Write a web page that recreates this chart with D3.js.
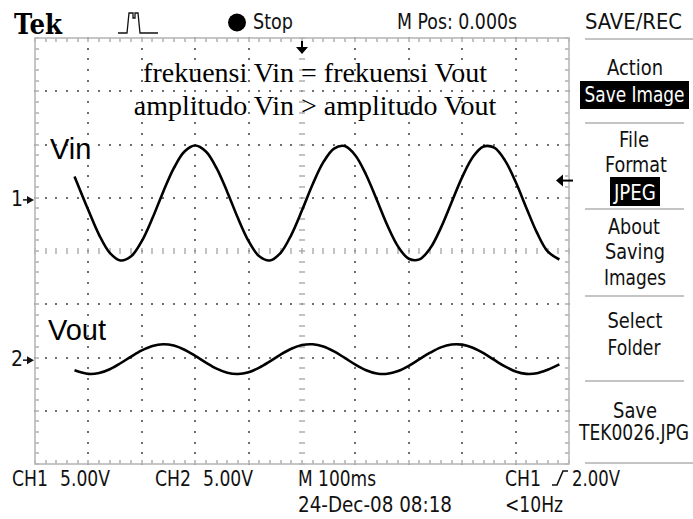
<!DOCTYPE html>
<html lang="en">
<head>
<meta charset="UTF-8">
<title>Vin vs Vout</title>
<script src="https://d3js.org/d3.v7.min.js"></script>
<style>
    body { margin: 0; background: #fff; }
    svg { display: block; }
    .tek { font-family: "DejaVu Sans Condensed", "DejaVu Sans", sans-serif; font-stretch: condensed; font-size: 21px; }
</style>
</head>
<body>
<svg id="scope"></svg>
<script>
    // sample times (ms from trigger) and both traces in volts
    var timeMs = [-426, -400, -380, -360, -340, -320, -300, -280, -260, -240, -220, -200, -180, -160, -140, -120,
        -100, -80, -60, -40, -20, 0, 20, 40, 60, 80, 100, 120, 140, 160, 180, 200, 220, 240, 260, 280, 300, 320,
        340, 360, 380, 400, 420, 440, 460, 482];
    var vin = [2.20, -0.98, -3.28, -4.97, -5.69, -5.30, -3.87, -1.71, 0.75, 2.98, 4.54, 5.10, 4.54, 2.98, 0.75, -1.71,
        -3.87, -5.30, -5.69, -4.97, -3.28, -0.98, 1.47, 3.54, 4.82, 5.05, 4.17, 2.36, 0.01, -2.41, -4.39, -5.53, -5.59,
        -4.55, -2.63, -0.24, 2.14, 4.03, 5.01, 4.90, 3.71, 1.70, -0.73, -3.08, -4.84, -5.60];
    var vout = [-0.95, -1.29, -1.21, -0.85, -0.29, 0.34, 0.92, 1.34, 1.50, 1.37, 0.98, 0.40, -0.23, -0.80, -1.18, -1.30,
        -1.13, -0.70, -0.11, 0.53, 1.07, 1.42, 1.49, 1.28, 0.82, 0.21, -0.42, -0.94, -1.25, -1.28, -1.02, -0.53, 0.09,
        0.70, 1.20, 1.47, 1.46, 1.16, 0.65, 0.02, -0.59, -1.06, -1.29, -1.23, -0.90, -0.40];

    var timeDomain = [-500, 500];     // M 100ms, 10 divisions
    var divDomain = [-4, 4];          // 8 vertical divisions
    var voltsPerDiv = [5, 5];         // CH1, CH2
    var chOffsetDiv = [0.96, -2.05];  // ground markers
    var trigLevel = 2.0;
    var notes = ["frekuensi Vin = frekuensi Vout", "amplitudo Vin > amplitudo Vout"];
    var traceNames = ["Vin", "Vout"];

    var W = 693, H = 519;
    var svg = d3.select('#scope').attr('width', W).attr('height', H);
    svg.append('rect').attr('width', W).attr('height', H).attr('fill', '#fff');

    var x = d3.scaleLinear().domain(timeDomain).range([35, 569]);
    var y = d3.scaleLinear().domain(divDomain).range([464, 38]);
    var divW = (x.range()[1] - x.range()[0]) / 10;
    var divH = (y.range()[0] - y.range()[1]) / 8;

    // graticule
    var grid = svg.append('g');
    var gridCol = '#6e6e6e';
    var tickCol = '#aaa';
    var minorX = d3.range(0, 51).map(function (i) { return Math.round(x.range()[0] + i * divW / 5); });
    var minorY = d3.range(0, 41).map(function (i) { return Math.round(y.range()[1] + i * divH / 5); });
    var dots = [];
    d3.range(1, 10).filter(function (i) { return i !== 5; }).forEach(function (i) {
        var gx = minorX[i * 5];
        minorY.forEach(function (py) { dots.push([gx, py]); });
    });
    d3.range(1, 8).filter(function (j) { return j !== 4; }).forEach(function (j) {
        var gy = minorY[j * 5];
        minorX.forEach(function (px) { dots.push([px, gy]); });
    });
    grid.selectAll('.dot').data(dots).enter().append('rect')
        .attr('class', 'dot')
        .attr('x', function (d) { return d[0] - 1; })
        .attr('y', function (d) { return d[1] - 1; })
        .attr('width', 2).attr('height', 2)
        .attr('fill', gridCol);

    // centre cross with ticks
    var cx = x(0), cy = y(0);
    minorY.forEach(function (py) {
        grid.append('line').attr('x1', cx - 3).attr('x2', cx + 3).attr('y1', py).attr('y2', py).attr('stroke', tickCol).attr('stroke-width', 1.4);
    });
    minorX.forEach(function (px) {
        grid.append('line').attr('x1', px).attr('x2', px).attr('y1', cy - 3).attr('y2', cy + 3).attr('stroke', tickCol).attr('stroke-width', 1.4);
    });
    // edge ticks
    minorX.forEach(function (px) {
        grid.append('line').attr('x1', px).attr('x2', px).attr('y1', y.range()[1]).attr('y2', y.range()[1] + 4).attr('stroke', tickCol).attr('stroke-width', 1.4);
        grid.append('line').attr('x1', px).attr('x2', px).attr('y1', y.range()[0]).attr('y2', y.range()[0] - 4).attr('stroke', tickCol).attr('stroke-width', 1.4);
    });
    minorY.forEach(function (py) {
        grid.append('line').attr('x1', x.range()[0]).attr('x2', x.range()[0] + 4).attr('y1', py).attr('y2', py).attr('stroke', tickCol).attr('stroke-width', 1.4);
        grid.append('line').attr('x1', x.range()[1]).attr('x2', x.range()[1] - 4).attr('y1', py).attr('y2', py).attr('stroke', tickCol).attr('stroke-width', 1.4);
    });
    grid.append('rect').attr('x', x.range()[0]).attr('y', y.range()[1])
        .attr('width', x.range()[1] - x.range()[0]).attr('height', y.range()[0] - y.range()[1])
        .attr('fill', 'none').attr('stroke', '#b8b8b8').attr('stroke-width', 1.6);

    // traces
    var series = [vin, vout];
    series.forEach(function (vals, k) {
        var line = d3.line()
            .x(function (d, i) { return x(timeMs[i]); })
            .y(function (d) { return y(chOffsetDiv[k] + d / voltsPerDiv[k]); })
            .curve(d3.curveCatmullRom);
        svg.append('path').datum(vals).attr('d', line)
            .attr('fill', 'none').attr('stroke', '#000').attr('stroke-width', 2.6).attr('stroke-linejoin', 'round');
    });

    // trace names
    svg.append('text').attr('x', 50).attr('y', 159).text(traceNames[0])
        .attr('font-family', 'Liberation Sans, Arial, sans-serif').attr('font-size', 29).attr('fill', '#000');
    svg.append('text').attr('x', 48).attr('y', 340).text(traceNames[1])
        .attr('font-family', 'Liberation Sans, Arial, sans-serif').attr('font-size', 29).attr('fill', '#000');

    // annotation
    notes.forEach(function (s, i) {
        svg.append('text').attr('x', 315).attr('y', 82 + i * 33).attr('text-anchor', 'middle').text(s)
            .attr('font-family', 'Liberation Serif, Times New Roman, serif').attr('font-size', 28).attr('fill', '#000');
    });

    // channel ground markers
    chOffsetDiv.forEach(function (d, k) {
        var py = y(d);
        svg.append('text').attr('class', 'tek').attr('x', 11).attr('y', py + 6).attr('font-size', 17).style('fill', '#111').text(k + 1);
        svg.append('line').attr('x1', 23).attr('x2', 30).attr('y1', py).attr('y2', py).attr('stroke', '#111').attr('stroke-width', 1.5);
        svg.append('path').attr('d', 'M' + 34 + ',' + py + 'L' + 27 + ',' + (py - 4) + 'L' + 27 + ',' + (py + 4) + 'Z').attr('fill', '#111');
    });

    // trigger position and level arrows
    svg.append('line').attr('x1', cx).attr('x2', cx).attr('y1', 41).attr('y2', 48).attr('stroke', '#000').attr('stroke-width', 2);
    svg.append('path').attr('d', 'M' + (cx - 6) + ',47L' + (cx + 6) + ',47L' + cx + ',54Z').attr('fill', '#000');
    var ty = y(chOffsetDiv[0] + trigLevel / voltsPerDiv[0]) + 2;
    svg.append('line').attr('x1', 562).attr('x2', 573).attr('y1', ty).attr('y2', ty).attr('stroke', '#000').attr('stroke-width', 2);
    svg.append('path').attr('d', 'M556,' + ty + 'L563,' + (ty - 6) + 'L563,' + (ty + 6) + 'Z').attr('fill', '#000');

    function label(px, py, s, w, anchor, col) {
        var t = svg.append('text').attr('class', 'tek').attr('x', px).attr('y', py).text(s).style('fill', col || '#111');
        if (anchor) t.attr('text-anchor', anchor);
        if (w) t.attr('textLength', w).attr('lengthAdjust', 'spacingAndGlyphs');
        return t;
    }

    // header
    svg.append('text').attr('x', 14).attr('y', 34).text('Tek')
        .attr('font-family', 'DejaVu Serif, serif').attr('font-weight', 'bold').attr('font-size', 27).attr('fill', '#000')
        .attr('textLength', 48).attr('lengthAdjust', 'spacingAndGlyphs');
    svg.append('path').attr('d', 'M118,33h9l2,-20h4v5h2v-5h3l2,20h18')
        .attr('fill', 'none').attr('stroke', '#111').attr('stroke-width', 1.3);
    svg.append('circle').attr('cx', 237).attr('cy', 22.5).attr('r', 9).attr('fill', '#000');
    label(253, 29, 'Stop', 40);
    label(397, 29, 'M Pos: 0.000s', 120);
    label(585, 29, 'SAVE/REC', 97);

    // menu
    var sepCol = '#b0b0b0';
    [39, 123, 209, 296, 381, 463].forEach(function (sy) {
        svg.append('line').attr('x1', 585).attr('x2', sy === 39 || sy === 463 ? 693 : 684).attr('y1', sy).attr('y2', sy)
            .attr('stroke', sepCol).attr('stroke-width', 1.5);
    });
    label(635, 75, 'Action', 56, 'middle');
    svg.append('rect').attr('x', 580).attr('y', 81).attr('width', 109).attr('height', 28).attr('fill', '#000');
    label(634.5, 102, 'Save Image', 100, 'middle', '#fff').attr('font-size', 18);
    label(634, 147, 'File', 30, 'middle');
    label(636, 172, 'Format', 62, 'middle');
    svg.append('rect').attr('x', 610).attr('y', 177).attr('width', 50).attr('height', 29).attr('fill', '#000');
    label(635, 200, 'JPEG', 42, 'middle', '#fff').attr('font-size', 20);
    label(634, 234, 'About', 52, 'middle');
    label(635, 259, 'Saving', 60, 'middle');
    label(635, 285, 'Images', 62, 'middle');
    label(635, 328, 'Select', 55, 'middle');
    label(634, 355, 'Folder', 53, 'middle');
    label(635, 418, 'Save', 44, 'middle');
    label(689, 440, 'TEK0026.JPG', 110, 'end').attr('font-size', 19);

    // footer
    label(12, 486, 'CH1', 36);
    label(60, 486, '5.00V', 50);
    label(155, 486, 'CH2', 36);
    label(203, 486, '5.00V', 50);
    label(298, 486, 'M 100ms', 78);
    label(505, 486, 'CH1', 36);
    svg.append('path').attr('d', 'M552,485h5l6,-14h5').attr('fill', 'none').attr('stroke', '#111').attr('stroke-width', 1.6);
    label(572, 486, '2.00V', 48);
    label(298, 512, '24-Dec-08 08:18', 154);
    label(505, 512, '<10Hz', 58);
</script>
</body>
</html>
